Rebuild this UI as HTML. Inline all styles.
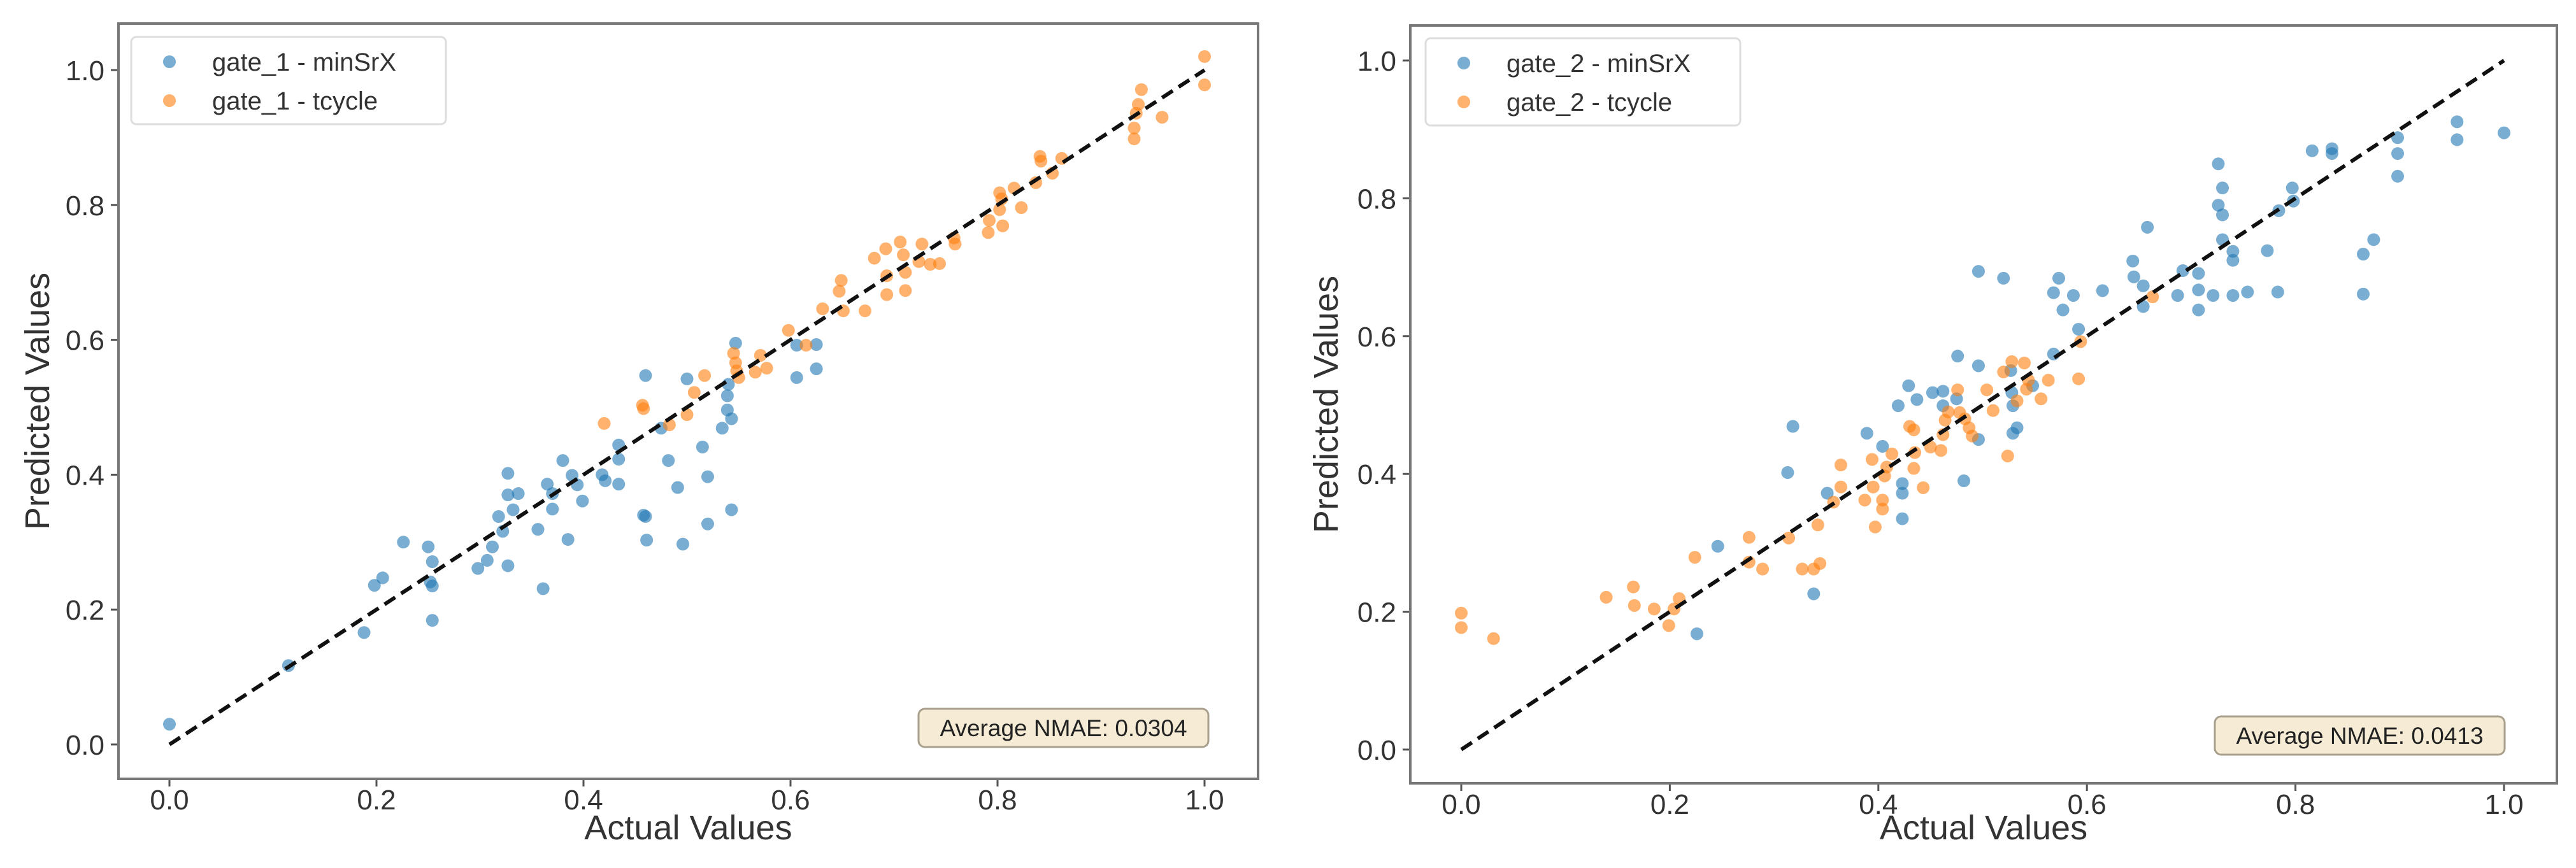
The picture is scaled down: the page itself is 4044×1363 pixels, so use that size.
<!DOCTYPE html>
<html><head><meta charset="utf-8"><style>
html,body{margin:0;padding:0;background:#fff;}
svg{display:block;font-family:"Liberation Sans","DejaVu Sans",sans-serif;}
</style></head><body>
<svg id="fig" width="4044" height="1363" viewBox="0 0 4044 1363" xmlns="http://www.w3.org/2000/svg"></svg>
<script>
// ---- data: plot 1 (gate_1) ----
const g1MinX = [0.0,0.115,0.188,0.198,0.206,0.226,0.25,0.254,0.252,0.254,0.254,0.298,0.307,0.312,0.327,0.322,0.318,0.332,0.327,0.337,0.327,0.361,0.356,0.37,0.365,0.37,0.38,0.385,0.389,0.394,0.399,0.418,0.421,0.434,0.434,0.434,0.46,0.458,0.46,0.461,0.475,0.482,0.491,0.496,0.5,0.515,0.52,0.52,0.534,0.539,0.539,0.54,0.543,0.543,0.547,0.606,0.606,0.625,0.625];
const g1MinY = [0.03,0.117,0.166,0.236,0.247,0.30,0.293,0.271,0.241,0.235,0.184,0.261,0.273,0.293,0.265,0.316,0.338,0.348,0.37,0.372,0.402,0.231,0.319,0.349,0.386,0.372,0.421,0.304,0.399,0.385,0.361,0.40,0.391,0.386,0.423,0.444,0.547,0.34,0.338,0.303,0.469,0.421,0.381,0.297,0.542,0.441,0.397,0.327,0.469,0.496,0.517,0.534,0.483,0.348,0.595,0.544,0.592,0.593,0.557];
const g1TcX = [0.42,0.457,0.458,0.483,0.5,0.507,0.517,0.545,0.547,0.548,0.55,0.566,0.571,0.577,0.598,0.615,0.631,0.649,0.647,0.651,0.672,0.681,0.692,0.693,0.693,0.706,0.709,0.711,0.711,0.724,0.727,0.735,0.744,0.758,0.759,0.791,0.792,0.802,0.804,0.802,0.805,0.816,0.823,0.837,0.841,0.842,0.853,0.862,0.932,0.932,0.934,0.936,0.939,0.959,1.0,1.0];
const g1TcY = [0.476,0.503,0.498,0.474,0.489,0.522,0.547,0.58,0.566,0.554,0.544,0.552,0.577,0.558,0.614,0.592,0.646,0.688,0.672,0.643,0.643,0.721,0.735,0.695,0.667,0.745,0.726,0.70,0.673,0.716,0.742,0.712,0.713,0.751,0.742,0.759,0.777,0.818,0.809,0.793,0.769,0.825,0.796,0.833,0.872,0.865,0.847,0.869,0.898,0.914,0.936,0.949,0.971,0.93,0.978,1.02];
// ---- data: plot 2 (gate_2) ----
const g2MinX = [0.226,0.246,0.313,0.318,0.338,0.351,0.389,0.404,0.419,0.423,0.423,0.423,0.429,0.437,0.452,0.462,0.462,0.475,0.476,0.482,0.496,0.496,0.496,0.52,0.527,0.528,0.529,0.529,0.533,0.548,0.568,0.568,0.573,0.577,0.587,0.592,0.615,0.644,0.645,0.654,0.654,0.658,0.687,0.692,0.707,0.707,0.707,0.721,0.726,0.726,0.73,0.73,0.73,0.74,0.74,0.74,0.754,0.773,0.783,0.784,0.797,0.798,0.816,0.835,0.835,0.865,0.865,0.875,0.898,0.898,0.898,0.955,0.955,1.0];
const g2MinY = [0.168,0.295,0.402,0.469,0.226,0.372,0.459,0.44,0.499,0.386,0.372,0.335,0.528,0.508,0.518,0.52,0.499,0.509,0.571,0.39,0.557,0.45,0.694,0.684,0.55,0.518,0.499,0.459,0.467,0.528,0.574,0.663,0.684,0.638,0.659,0.61,0.666,0.709,0.686,0.673,0.643,0.758,0.659,0.695,0.691,0.667,0.638,0.659,0.85,0.79,0.815,0.776,0.74,0.723,0.71,0.659,0.664,0.724,0.664,0.782,0.815,0.796,0.869,0.872,0.865,0.719,0.661,0.74,0.888,0.865,0.832,0.911,0.885,0.895];
const g2TcX = [0.0,0.0,0.031,0.139,0.165,0.166,0.185,0.199,0.204,0.209,0.224,0.276,0.276,0.289,0.314,0.327,0.338,0.344,0.342,0.357,0.364,0.364,0.387,0.394,0.395,0.397,0.404,0.404,0.406,0.408,0.413,0.43,0.434,0.434,0.435,0.443,0.45,0.46,0.462,0.464,0.467,0.476,0.478,0.483,0.487,0.49,0.504,0.51,0.52,0.524,0.528,0.533,0.54,0.542,0.544,0.556,0.563,0.592,0.594,0.663];
const g2TcY = [0.198,0.177,0.161,0.221,0.236,0.209,0.204,0.18,0.204,0.219,0.279,0.308,0.272,0.262,0.307,0.262,0.262,0.27,0.326,0.359,0.413,0.381,0.362,0.421,0.381,0.323,0.362,0.349,0.397,0.41,0.429,0.469,0.464,0.408,0.431,0.38,0.439,0.434,0.457,0.478,0.49,0.522,0.489,0.48,0.467,0.455,0.522,0.492,0.548,0.426,0.563,0.506,0.561,0.523,0.536,0.509,0.536,0.538,0.592,0.657];
const tickVals = [0.0,0.2,0.4,0.6,0.8,1.0];
const tickLabels = ["0.0","0.2","0.4","0.6","0.8","1.0"];

const NS="http://www.w3.org/2000/svg";
const svg=document.getElementById('fig');
function mk(tag,attrs,parent){const e=document.createElementNS(NS,tag);for(const k in attrs)e.setAttribute(k,attrs[k]);(parent||svg).appendChild(e);return e;}

const panels=[
 {id:'left',x0:266,x1:1891,y0:1169,y1:110,fl:186,fr:1975,ft:37,fb:1223,
  legL:206,legR:700,legT:58,legB:195,gate:'gate_1',
  bx:1442,bw:455,bt:1113,bh:60,nmae:'Average NMAE: 0.0304',ylabX:77,
  sets:[[g1MinX,g1MinY,'#1f77b4','minsrx'],[g1TcX,g1TcY,'#ff7f0e','tcycle']]},
 {id:'right',x0:2294,x1:3931,y0:1177,y1:95,fl:2214,fr:4014,ft:40,fb:1230,
  legL:2238,legR:2732,legT:60,legB:197,gate:'gate_2',
  bx:3477,bw:455,bt:1125,bh:60,nmae:'Average NMAE: 0.0413',ylabX:2100,
  sets:[[g2MinX,g2MinY,'#1f77b4','minsrx'],[g2TcX,g2TcY,'#ff7f0e','tcycle']]}
];

panels.forEach(p=>{
  const sx=v=>p.x0+(p.x1-p.x0)*v;
  const sy=v=>p.y0+(p.y1-p.y0)*v;
  const g=mk('g',{});
  
  
  // ticks
  tickVals.forEach((v,i)=>{
    const tx=mk('line',{x1:sx(v),x2:sx(v),y1:p.fb,y2:p.fb+12,stroke:'#555','stroke-width':3},g);
    
    
    const lx=mk('text',{x:sx(v),y:p.fb+48,'font-size':44,'text-anchor':'middle',fill:'#333'},g);
    lx.textContent=tickLabels[i];
    
    
    const ty=mk('line',{x1:p.fl-12,x2:p.fl,y1:sy(v),y2:sy(v),stroke:'#555','stroke-width':3},g);
    
    
    const ly=mk('text',{x:p.fl-22,y:sy(v)+16,'font-size':44,'text-anchor':'end',fill:'#333'},g);
    ly.textContent=tickLabels[i];
    
    
  });
  // points
  p.sets.forEach(s=>{
    const [xs,ys,col,nm]=s;
    xs.forEach((xv,i)=>{
      const c=mk('circle',{cx:sx(xv),cy:sy(ys[i]),r:10,fill:col,'fill-opacity':0.6},g);
      
      
    });
  });
  // diagonal
  const d=mk('line',{x1:sx(0),y1:sy(0),x2:sx(1),y2:sy(1),stroke:'#111','stroke-width':6,'stroke-dasharray':'20 11'},g);
  
  
  // frame
  const f=mk('rect',{x:p.fl,y:p.ft,width:p.fr-p.fl,height:p.fb-p.ft,fill:'none',stroke:'#777','stroke-width':4},g);
  
  
  // legend
  const lg=mk('g',{},g);
  
  
  mk('rect',{x:p.legL,y:p.legT,width:p.legR-p.legL,height:p.legB-p.legT,rx:8,fill:'#fff','fill-opacity':0.85,stroke:'#ddd','stroke-width':3},lg);
  [['#1f77b4',' - minSrX',p.legT+39],['#ff7f0e',' - tcycle',p.legT+100]].forEach(e=>{
    const le=mk('g',{},lg);
    
    
    mk('circle',{cx:p.legL+60,cy:e[2],r:10,fill:e[0],'fill-opacity':0.6},le);
    const t=mk('text',{x:p.legL+127,y:e[2]+14,'font-size':40,fill:'#333'},le);
    t.textContent=p.gate+e[1];
  });
  // NMAE box
  const bg=mk('g',{},g);
  
  
  mk('rect',{x:p.bx,y:p.bt,width:p.bw,height:p.bh,rx:10,fill:'#f6ecd6',stroke:'#a89f8c','stroke-width':3},bg);
  const bt=mk('text',{x:p.bx+p.bw/2,y:p.bt+p.bh/2+13,'font-size':37,'text-anchor':'middle',fill:'#222'},bg);
  bt.textContent=p.nmae;
  // axis titles
  const xt=mk('text',{x:(p.fl+p.fr)/2,y:1318,'font-size':54,'text-anchor':'middle',fill:'#333'},g);
  xt.textContent='Actual Values';
  
  
  const yc=(p.ft+p.fb)/2;
  const yt=mk('text',{x:p.ylabX,y:yc,'font-size':54,'text-anchor':'middle',fill:'#333',transform:'rotate(-90 '+p.ylabX+' '+yc+')'},g);
  yt.textContent='Predicted Values';
  
  
});
</script>
</body></html>
